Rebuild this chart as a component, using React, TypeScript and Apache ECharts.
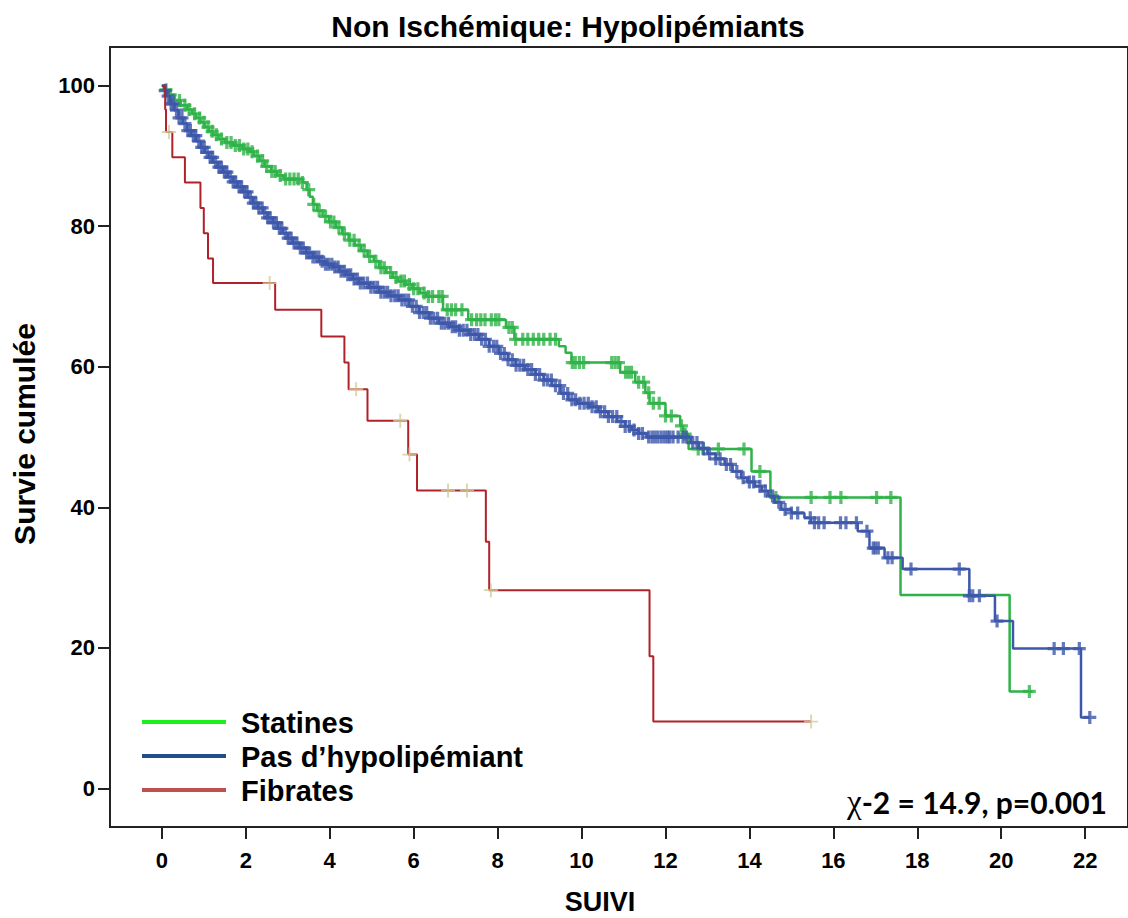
import React, { useEffect, useRef } from "react";
import * as echarts from "echarts";

// ---- axis ticks ----
const xTicks = [0, 2, 4, 6, 8, 10, 12, 14, 16, 18, 20, 22];
const yTicks = [0, 20, 40, 60, 80, 100];

// ---- Statines (green) step curve ----
const statTime = [0, 0.05, 0.15, 0.3, 0.45, 0.6, 0.72, 0.82, 0.92, 1.02, 1.12, 1.22, 1.35, 1.5, 1.7, 1.93, 2.1, 2.2, 2.33, 2.45, 2.6, 2.75, 2.9, 3.35, 3.45, 3.52, 3.6, 3.7, 3.83, 3.98, 4.15, 4.3, 4.45, 4.6, 4.75, 4.9, 5.05, 5.18, 5.35, 5.5, 5.62, 5.8, 5.97, 6.15, 6.3, 6.7, 7.3, 8.2, 8.4, 9.46, 9.62, 9.76, 10.92, 11.28, 11.52, 11.62, 12.0, 12.35, 12.42, 12.55, 14.05, 14.5, 17.6, 20.2, 20.75];
const statSurv = [100, 99.4, 98.7, 97.9, 97.2, 96.6, 96.0, 95.4, 94.8, 94.1, 93.5, 93.0, 92.4, 91.9, 91.5, 91.0, 90.6, 90.0, 89.3, 88.5, 87.8, 87.2, 86.7, 86.2, 85.2, 84.2, 83.1, 82.2, 81.4, 80.6, 79.8, 78.9, 78.0, 77.3, 76.5, 75.7, 75.0, 74.1, 73.4, 72.7, 72.2, 71.7, 71.1, 70.5, 70.0, 68.1, 66.7, 65.6, 63.9, 62.9, 62.0, 60.6, 59.2, 57.8, 56.3, 54.8, 53.0, 51.6, 50.4, 48.3, 45.1, 41.4, 27.5, 13.8, 13.8];
const statCens = [0.1, 0.2, 0.3, 0.42, 0.55, 0.65, 0.78, 0.9, 1.0, 1.1, 1.2, 1.3, 1.42, 1.55, 1.65, 1.75, 1.85, 1.95, 2.05, 2.15, 2.28, 2.4, 2.5, 2.62, 2.7, 2.82, 2.95, 3.05, 3.15, 3.25, 3.35, 3.5, 3.62, 3.75, 3.9, 4.02, 4.1, 4.22, 4.35, 4.48, 4.58, 4.7, 4.82, 4.95, 5.1, 5.22, 5.3, 5.45, 5.58, 5.7, 5.78, 5.9, 6.0, 6.1, 6.25, 6.35, 6.45, 6.6, 6.68, 6.8, 6.9, 7.0, 7.15, 7.38, 7.5, 7.6, 7.7, 7.85, 7.95, 8.03, 8.27, 8.35, 8.43, 8.6, 8.72, 8.85, 8.98, 9.1, 9.25, 9.38, 9.78, 9.85, 9.95, 10.05, 10.72, 10.8, 10.88, 11.05, 11.12, 11.19, 11.36, 11.48, 11.6, 11.71, 11.85, 12.0, 12.14, 12.38, 12.47, 12.78, 12.9, 13.26, 13.87, 14.25, 14.63, 15.47, 15.92, 16.18, 17.03, 17.37, 20.67];

// ---- Pas d'hypolipémiant (blue) step curve ----
const pasTime = [0, 0.05, 0.12, 0.2, 0.3, 0.4, 0.5, 0.6, 0.7, 0.82, 0.93, 1.02, 1.12, 1.22, 1.33, 1.46, 1.57, 1.69, 1.8, 1.93, 2.05, 2.17, 2.29, 2.41, 2.52, 2.64, 2.76, 2.88, 3.0, 3.12, 3.28, 3.44, 3.6, 3.75, 3.9, 4.07, 4.23, 4.39, 4.55, 4.7, 4.94, 5.18, 5.4, 5.65, 5.9, 6.13, 6.37, 6.6, 6.85, 7.08, 7.32, 7.56, 7.8, 8.03, 8.25, 8.43, 8.65, 8.9, 9.1, 9.3, 9.5, 9.69, 9.9, 10.17, 10.4, 10.64, 10.85, 11.04, 11.2, 11.36, 11.55, 12.6, 12.8, 13.0, 13.2, 13.41, 13.6, 13.8, 13.95, 14.13, 14.3, 14.45, 14.6, 14.76, 15.0, 15.31, 15.47, 16.58, 16.86, 17.22, 17.65, 19.24, 19.85, 20.28, 21.9, 22.11];
const pasSurv = [100, 99.3, 98.5, 97.4, 96.5, 95.4, 94.6, 93.6, 92.9, 92.1, 91.2, 90.5, 89.8, 89.1, 88.4, 87.7, 87.0, 86.3, 85.6, 84.9, 84.1, 83.3, 82.6, 81.9, 81.2, 80.5, 79.7, 79.0, 78.3, 77.6, 76.9, 76.2, 75.6, 75.0, 74.6, 74.2, 73.6, 73.1, 72.5, 71.9, 71.3, 70.6, 70.1, 69.5, 68.6, 67.7, 66.9, 66.2, 65.7, 65.2, 64.6, 63.9, 62.9, 61.9, 61.0, 60.2, 59.6, 58.9, 58.1, 57.3, 56.2, 55.3, 54.8, 54.3, 53.6, 52.9, 52.2, 51.5, 51.0, 50.5, 50.0, 49.2, 48.4, 47.6, 46.9, 46.1, 45.1, 44.2, 43.6, 43.0, 42.3, 41.6, 40.7, 39.7, 39.2, 38.5, 37.8, 36.6, 34.2, 32.8, 31.2, 27.4, 23.8, 19.9, 10.1, 10.1];
const pasCens = [0.08, 0.15, 0.22, 0.27, 0.35, 0.41, 0.48, 0.55, 0.62, 0.68, 0.75, 0.81, 0.88, 0.95, 1.01, 1.08, 1.15, 1.21, 1.28, 1.36, 1.42, 1.49, 1.55, 1.63, 1.7, 1.76, 1.84, 1.9, 1.97, 2.03, 2.11, 2.18, 2.24, 2.31, 2.39, 2.45, 2.52, 2.58, 2.66, 2.73, 2.8, 2.86, 2.94, 3.01, 3.08, 3.15, 3.22, 3.3, 3.37, 3.45, 3.52, 3.6, 3.67, 3.74, 3.82, 3.9, 3.97, 4.05, 4.12, 4.2, 4.27, 4.35, 4.43, 4.5, 4.58, 4.66, 4.73, 4.81, 4.9, 4.98, 5.06, 5.14, 5.22, 5.3, 5.38, 5.46, 5.55, 5.63, 5.72, 5.8, 5.88, 5.97, 6.06, 6.14, 6.23, 6.31, 6.4, 6.48, 6.57, 6.66, 6.74, 6.83, 6.92, 7.0, 7.09, 7.18, 7.27, 7.36, 7.45, 7.53, 7.62, 7.71, 7.8, 7.9, 7.98, 8.07, 8.16, 8.25, 8.35, 8.44, 8.53, 8.62, 8.72, 8.81, 8.9, 9.0, 9.1, 9.19, 9.28, 9.38, 9.48, 9.57, 9.67, 9.77, 9.86, 9.96, 10.06, 10.16, 10.25, 10.35, 10.45, 10.55, 10.64, 10.74, 10.84, 10.94, 11.04, 11.14, 11.25, 11.36, 11.45, 11.6, 11.68, 11.75, 11.82, 11.9, 11.98, 12.05, 12.1, 12.18, 12.3, 12.42, 12.5, 12.65, 12.75, 12.9, 13.05, 13.2, 13.3, 13.45, 13.55, 13.7, 13.85, 14.0, 14.1, 14.25, 14.38, 14.55, 14.7, 14.85, 15.0, 15.15, 15.45, 15.55, 15.65, 15.78, 16.17, 16.3, 16.55, 16.8, 16.95, 17.0, 17.07, 17.3, 17.4, 17.85, 19.0, 19.24, 19.32, 19.48, 19.9, 21.26, 21.48, 21.86, 22.11];

// ---- Fibrates (red) step curve ----
const fibTime = [0, 0.08, 0.1, 0.25, 0.55, 0.92, 1.0, 1.1, 1.22, 2.7, 3.8, 4.35, 4.45, 4.9, 5.87, 6.08, 7.72, 7.8, 11.62, 11.71, 15.47];
const fibSurv = [100, 96.6, 93.4, 89.8, 86.2, 82.6, 79.0, 75.4, 71.9, 68.1, 64.3, 60.6, 56.8, 52.3, 47.5, 42.4, 35.1, 28.2, 18.8, 9.5, 9.5];
const fibCens = [0.17, 2.57, 4.63, 5.68, 5.9, 6.82, 7.27, 7.84, 15.47];

const legendNames = ["Statines", "Pas d\u2019hypolipémiant", "Fibrates"];

function survAt(times: number[], survs: number[], t: number): number {
  let s = survs[0];
  for (let i = 0; i < times.length; i++) {
    if (times[i] <= t) s = survs[i];
  }
  return s;
}

const PLUS_BOLD = "path://M4.5,0H7.5V12H4.5Z M0,4.5H12V7.5H0Z";
const PLUS_THIN = "path://M5.2,0H6.8V12H5.2Z M0,5.2H12V6.8H0Z";

export default function App() {
  const ref = useRef<HTMLDivElement>(null);

  useEffect(() => {
    if (!ref.current) return;
    const chart = echarts.init(ref.current, undefined, { renderer: "svg" });

    const GREEN = "#2fb348";
    const BLUE = "#3d58aa";
    const RED = "#b0222a";
    const TAN = "#d5cb98";

    const stepData = (t: number[], s: number[]) => t.map((v, i) => [v, s[i]]);
    const censData = (c: number[], t: number[], s: number[]) => c.map((v) => [v, survAt(t, s, v)]);

    const axisFont = "Liberation Sans";
    const lgFont = "Lato";

    const legendColors = ["#1cf01c", "#1f4e8c", "#c0504d"];
    const legendY = [722, 756, 790];

    const graphics: any[] = [
      {
        type: "text",
        x: 568,
        y: 26,
        style: {
          text: "Non Ischémique: Hypolipémiants",
          font: `bold 30px "${axisFont}"`,
          fill: "#000",
          align: "center",
          verticalAlign: "middle",
          textAlign: "center",
          textVerticalAlign: "middle",
        },
      },
      {
        type: "text",
        x: 24,
        y: 434,
        rotation: Math.PI / 2,
        style: {
          text: "Survie cumulée",
          font: `bold 30px "${axisFont}"`,
          fill: "#000",
          align: "center",
          verticalAlign: "middle",
          textAlign: "center",
          textVerticalAlign: "middle",
        },
      },
      {
        type: "text",
        x: 600,
        y: 902,
        style: {
          text: "SUIVI",
          font: `bold 27px "${axisFont}"`,
          fill: "#000",
          align: "center",
          verticalAlign: "middle",
          textAlign: "center",
          textVerticalAlign: "middle",
        },
      },
      {
        type: "text",
        x: 1107,
        y: 802,
        style: {
          text: "{c|\u03C7}{b|-2 = 14.9, p=0.001}",
          rich: {
            c: { font: `33px "Liberation Serif"`, fill: "#000" },
            b: { font: `bold 30px "${lgFont}"`, fill: "#000" },
          },
          align: "right",
          verticalAlign: "middle",
          textAlign: "right",
          textVerticalAlign: "middle",
        },
      },
    ];
    legendNames.forEach((name, i) => {
      graphics.push({
        type: "line",
        shape: { x1: 142, y1: legendY[i], x2: 226, y2: legendY[i] },
        style: { stroke: legendColors[i], lineWidth: 4 },
      });
      graphics.push({
        type: "text",
        x: 241,
        y: legendY[i] + 1,
        style: {
          text: name,
          font: `bold 29px "${axisFont}"`,
          lineHeight: 30,
          fill: "#000",
          align: "left",
          verticalAlign: "middle",
          textAlign: "left",
          textVerticalAlign: "middle",
        },
      });
    });

    const option: any = {
      animation: false,
      backgroundColor: "#ffffff",
      grid: {
        left: 110,
        top: 47,
        right: -3,
        bottom: 91,
        show: true,
        borderColor: "#222",
        borderWidth: 2,
        containLabel: false,
      },
      xAxis: {
        type: "value",
        min: -1.235,
        max: 23.02,
        splitLine: { show: false },
        axisLine: { show: true, onZero: false, lineStyle: { color: "#222", width: 2 } },
        axisTick: { show: true, length: 12, customValues: xTicks, lineStyle: { color: "#222", width: 2 } },
        axisLabel: {
          customValues: xTicks,
          margin: 22,
          color: "#000",
          fontFamily: axisFont,
          fontWeight: "bold",
          fontSize: 22,
        },
      },
      yAxis: {
        type: "value",
        min: -5.5,
        max: 105.5,
        splitLine: { show: false },
        axisLine: { show: true, onZero: false, lineStyle: { color: "#222", width: 2 } },
        axisTick: { show: true, length: 12, customValues: yTicks, lineStyle: { color: "#222", width: 2 } },
        axisLabel: {
          customValues: yTicks,
          margin: 15,
          color: "#000",
          fontFamily: axisFont,
          fontWeight: "bold",
          fontSize: 22,
        },
      },
      graphic: graphics,
      series: [
        {
          name: legendNames[0],
          type: "line",
          step: "end",
          symbol: "none",
          data: stepData(statTime, statSurv),
          lineStyle: { color: GREEN, width: 2.5 },
          z: 2,
        },
        {
          name: legendNames[0] + " censurés",
          type: "scatter",
          symbol: PLUS_BOLD,
          symbolSize: 13,
          data: censData(statCens, statTime, statSurv),
          itemStyle: { color: GREEN },
          z: 2,
        },
        {
          name: legendNames[1],
          type: "line",
          step: "end",
          symbol: "none",
          data: stepData(pasTime, pasSurv),
          lineStyle: { color: BLUE, width: 2.5 },
          z: 3,
        },
        {
          name: legendNames[1] + " censurés",
          type: "scatter",
          symbol: PLUS_BOLD,
          symbolSize: 13,
          data: censData(pasCens, pasTime, pasSurv),
          itemStyle: { color: BLUE },
          z: 3,
        },
        {
          name: legendNames[2],
          type: "line",
          step: "end",
          symbol: "none",
          data: stepData(fibTime, fibSurv),
          lineStyle: { color: RED, width: 2 },
          z: 4,
        },
        {
          name: legendNames[2] + " censurés",
          type: "scatter",
          symbol: PLUS_THIN,
          symbolSize: 14,
          data: censData(fibCens, fibTime, fibSurv),
          itemStyle: { color: TAN },
          z: 5,
        },
      ],
    };

    chart.setOption(option);
    return () => {
      chart.dispose();
    };
  }, []);

  return (
    <div
      ref={ref}
      style={{ position: "absolute", left: 0, top: 0, width: 1128, height: 918, background: "#fff" }}
    />
  );
}
